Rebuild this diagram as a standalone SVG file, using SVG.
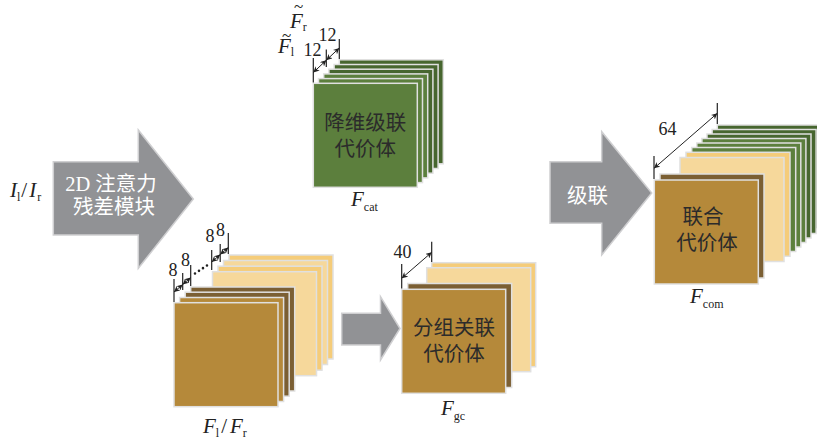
<svg xmlns="http://www.w3.org/2000/svg" width="817" height="441" viewBox="0 0 817 441">
<style>
.lay{stroke:#e0e0e0;stroke-width:1.5}
.g1{fill:#5c7f3d}.g2{fill:#47662f}
.au{fill:#b5893a}.br{fill:#7b5f33}
.ly{fill:#f6d89b}.oy{fill:#f5cc79}
.barrow{fill:#919295;stroke:#cfcfd1;stroke-width:1.5}
.cn{font-family:"Liberation Serif","Noto Sans CJK SC",serif;font-size:20.5px;fill:#2b2b2b;text-anchor:middle}
.wt{font-family:"Liberation Serif","Noto Sans CJK SC",serif;font-size:20.5px;fill:#ffffff;text-anchor:middle}
.num{font-family:"Liberation Serif","DejaVu Serif",serif;font-size:18px;fill:#222;text-anchor:middle}
.math{font-family:"Liberation Serif","DejaVu Serif",serif;font-size:21px;fill:#222}
.tl{font-family:"Liberation Serif","DejaVu Serif",serif;font-size:17px;fill:#222}
.it{font-style:italic}
.sub{font-size:12px}
.tick{stroke:#222;stroke-width:1.2}
.dim{stroke:#222;stroke-width:1;marker-start:url(#ah);marker-end:url(#ah)}
</style>
<defs>
<marker id="ah" viewBox="0 0 10 10" refX="10" refY="5" markerWidth="6" markerHeight="6" markerUnits="userSpaceOnUse" orient="auto-start-reverse">
<path d="M0,0 L10,5 L0,10 L3,5 z" fill="#222"/>
</marker>
</defs>

<g id="connectors">
<polygon class="barrow" points="53.3,161.7 138.3,161.7 138.3,130 193.3,199 138.3,268.3 138.3,235 53.3,235"/>
<polygon class="barrow" points="341.7,313.3 380.5,313.3 380.5,296.7 400,328.5 380.5,360 380.5,345 341.7,345"/>
<polygon class="barrow" points="550,161.7 601.7,161.7 601.7,131.7 651.7,193 601.7,255 601.7,223.3 550,223.3"/>
</g>

<g id="attention-module">
<text class="wt" x="111" y="191">2D 注意力</text>
<text class="wt" x="114" y="214">残差模块</text>
</g>

<g id="input-label">
<text class="math" x="10" y="197" font-size="23"><tspan class="it">I</tspan><tspan class="sub" dy="4">l</tspan><tspan dy="-4" dx="1">/</tspan><tspan class="it" dx="2">I</tspan><tspan class="sub" dy="4" dx="1">r</tspan></text>
</g>

<g id="concat-arrow">
<text class="wt" x="587.5" y="203">级联</text>
</g>

<g id="stack-cat">
<rect class="lay g2" x="339.3" y="59.8" width="104" height="104"/>
<rect class="lay g2" x="334.1" y="64.5" width="104" height="104"/>
<rect class="lay g2" x="328.9" y="69.2" width="104" height="104"/>
<rect class="lay g1" x="323.7" y="73.9" width="104" height="104"/>
<rect class="lay g1" x="318.5" y="78.6" width="104" height="104"/>
<rect class="lay g1" x="313.3" y="83.3" width="104" height="104"/>
<text class="cn" x="365.3" y="130">降维级联</text>
<text class="cn" x="365.3" y="156">代价体</text>
<line class="tick" x1="313.3" y1="58" x2="313.3" y2="82.5"/>
<line class="tick" x1="326.3" y1="49.5" x2="326.3" y2="67"/>
<line class="tick" x1="339.3" y1="39" x2="339.3" y2="59"/>
<line class="dim" x1="313.3" y1="72.5" x2="326.3" y2="60.2"/>
<line class="dim" x1="326.3" y1="60.2" x2="339.3" y2="48"/>
<text class="num" x="312.5" y="56">12</text>
<text class="num" x="327.5" y="41">12</text>
<text class="math" x="290" y="28"><tspan class="it">F</tspan><tspan class="sub" dy="3">r</tspan></text>
<text class="tl" x="294" y="12">~</text>
<text class="math" x="278" y="53"><tspan class="it">F</tspan><tspan class="sub" dy="3">l</tspan></text>
<text class="tl" x="282" y="41">~</text>
<text class="math" x="351" y="206"><tspan class="it">F</tspan><tspan class="sub" dy="5">cat</tspan></text>
</g>

<g id="stack-lr">
<rect class="lay oy" x="229" y="255" width="104" height="104"/>
<rect class="lay ly" x="223.5" y="260.5" width="104" height="104"/>
<rect class="lay oy" x="218" y="266.2" width="104" height="104"/>
<rect class="lay ly" x="212.5" y="271.7" width="104" height="104"/>
<rect class="lay br" x="190.7" y="287" width="104" height="104"/>
<rect class="lay br" x="185.2" y="292.2" width="104" height="104"/>
<rect class="lay au" x="179.6" y="297.5" width="104" height="104"/>
<rect class="lay au" x="174" y="302.7" width="104" height="104"/>
<line class="tick" x1="174" y1="279" x2="174" y2="302"/>
<line class="tick" x1="182.7" y1="273" x2="182.7" y2="290"/>
<line class="tick" x1="190.7" y1="265" x2="190.7" y2="286"/>
<line class="tick" x1="211.7" y1="250" x2="211.7" y2="270"/>
<line class="tick" x1="220.2" y1="244" x2="220.2" y2="262"/>
<line class="tick" x1="228.3" y1="233" x2="228.3" y2="254"/>
<line class="dim" x1="174" y1="292" x2="182.7" y2="284.5"/>
<line class="dim" x1="182.7" y1="284.5" x2="190.7" y2="277.5"/>
<line class="dim" x1="211.7" y1="262" x2="220.2" y2="254.6"/>
<line class="dim" x1="220.2" y1="254.6" x2="228.3" y2="247.5"/>
<line x1="195" y1="273.5" x2="209.5" y2="263.8" stroke="#222" stroke-width="2.6" stroke-linecap="round" stroke-dasharray="0 4.8"/>
<text class="num" x="173" y="276">8</text>
<text class="num" x="185.5" y="266">8</text>
<text class="num" x="210" y="241.5">8</text>
<text class="num" x="220.5" y="236">8</text>
<text class="math" x="203" y="433" font-size="22"><tspan class="it">F</tspan><tspan class="sub" dy="4">l</tspan><tspan dy="-4" dx="2">/</tspan><tspan class="it" dx="3">F</tspan><tspan class="sub" dy="4">r</tspan></text>
</g>

<g id="stack-gc">
<rect class="lay oy" x="431.7" y="262.7" width="104" height="104"/>
<rect class="lay ly" x="426.7" y="267.7" width="104" height="104"/>
<rect class="lay br" x="407.7" y="283.5" width="104" height="104"/>
<rect class="lay au" x="401.7" y="289.3" width="104" height="104"/>
<text class="cn" x="454" y="335">分组关联</text>
<text class="cn" x="454" y="361">代价体</text>
<line class="tick" x1="401.7" y1="264" x2="401.7" y2="288.5"/>
<line class="tick" x1="431.7" y1="241.7" x2="431.7" y2="262"/>
<line class="dim" x1="401.7" y1="278.3" x2="431.7" y2="252.3"/>
<text class="num" x="402.5" y="258">40</text>
<text class="math" x="441" y="415"><tspan class="it">F</tspan><tspan class="sub" dy="5">gc</tspan></text>
</g>

<g id="stack-com">
<rect class="lay g2" x="717.3" y="125" width="104" height="104"/>
<rect class="lay g2" x="712.1" y="129.5" width="104" height="104"/>
<rect class="lay g2" x="707" y="134" width="104" height="104"/>
<rect class="lay g1" x="701.9" y="138.5" width="104" height="104"/>
<rect class="lay g1" x="696.8" y="143" width="104" height="104"/>
<rect class="lay g1" x="691.7" y="147.5" width="104" height="104"/>
<rect class="lay oy" x="686" y="152.3" width="104" height="104"/>
<rect class="lay ly" x="680" y="157.5" width="104" height="104"/>
<rect class="lay br" x="660" y="174" width="104" height="104"/>
<rect class="lay au" x="654.3" y="180" width="104" height="104"/>
<text class="cn" x="703" y="224">联合</text>
<text class="cn" x="707" y="250">代价体</text>
<line class="tick" x1="654" y1="156" x2="654" y2="179"/>
<line class="tick" x1="717.3" y1="103" x2="717.3" y2="124"/>
<line class="dim" x1="654" y1="168.3" x2="717.3" y2="113.3"/>
<text class="num" x="667.5" y="135">64</text>
<text class="math" x="690" y="303"><tspan class="it">F</tspan><tspan class="sub" dy="5">com</tspan></text>
</g>
</svg>
